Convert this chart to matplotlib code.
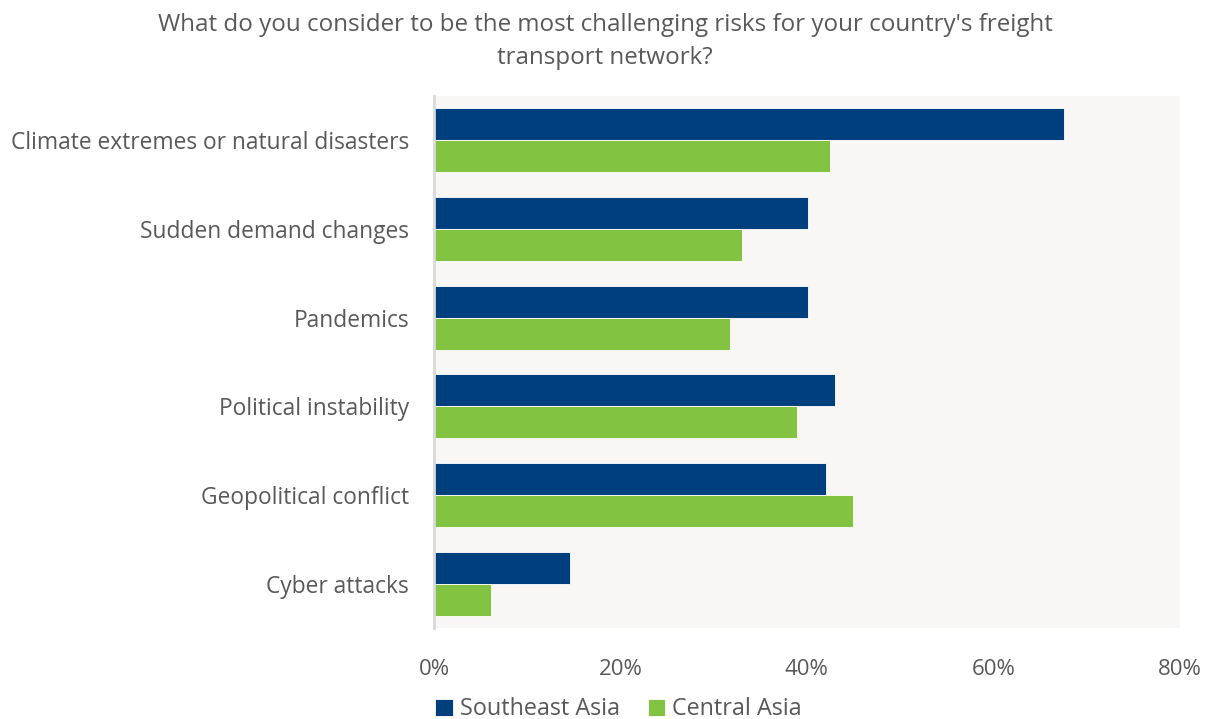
import numpy as np
import matplotlib.pyplot as plt
from matplotlib.ticker import PercentFormatter

categories = ["Climate extremes or natural disasters", "Sudden demand changes",
              "Pandemics", "Political instability", "Geopolitical conflict",
              "Cyber attacks"]
southeast_asia = [67.6, 40.1, 40.1, 43.0, 42.0, 14.6]
central_asia = [42.5, 33.0, 31.7, 38.9, 44.9, 6.1]

plt.rcParams['font.family'] = ['Open Sans', 'DejaVu Sans']
grey = "#595959"

fig = plt.figure(figsize=(12.10, 7.19), dpi=100)
ax = fig.add_axes([0.3587, 0.1266, 0.6163, 0.7399])
ax.set_facecolor("#F8F7F6")

y = np.arange(len(categories))
h = 0.36
ax.barh(y - h / 2, southeast_asia, height=h, color="#003F7D",
        edgecolor="white", linewidth=0.6, label="Southeast Asia")
ax.barh(y + h / 2, central_asia, height=h, color="#82C341",
        edgecolor="white", linewidth=0.6, label="Central Asia")

ax.set_ylim(len(categories) - 0.5, -0.5)
ax.set_xlim(0, 80)
ax.set_xticks(np.arange(0, 81, 20))
ax.xaxis.set_major_formatter(PercentFormatter(decimals=0))
ax.set_yticks(y)
ax.set_yticklabels(categories)
ax.tick_params(axis="both", length=0, labelsize=16, colors=grey)
ax.tick_params(axis="x", pad=22)
ax.tick_params(axis="y", pad=18)
for lbl in ax.get_yticklabels():
    lbl.set_fontsize(16.4)

for s in ["top", "right", "bottom"]:
    ax.spines[s].set_visible(False)
ax.spines["left"].set_color("#D9D9D9")
ax.spines["left"].set_linewidth(2)

fig.suptitle("What do you consider to be the most challenging risks for your country's freight\ntransport network?",
             x=0.5, y=0.982, fontsize=17.4, color=grey, linespacing=1.5)

ax.legend(loc="upper center", bbox_to_anchor=((0.5 - 0.3587) / 0.6163 + 0.018, -0.113),
          ncol=2, frameon=False, fontsize=16.8, labelcolor=grey,
          handlelength=0.75, handleheight=0.75, handletextpad=0.3, columnspacing=1.2,
          borderaxespad=0)

fig.savefig("out.png", dpi=100)
